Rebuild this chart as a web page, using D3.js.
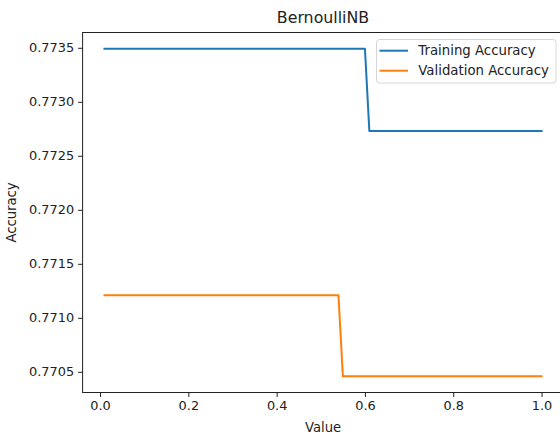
<!DOCTYPE html>
<html>
<head>
<meta charset="utf-8">
<script src="https://cdn.jsdelivr.net/npm/d3@7"></script>
<style>
  html, body { margin: 0; padding: 0; background: #fff; }
  svg { display: block; font-family: "DejaVu Sans", sans-serif; }
</style>
</head>
<body>
<svg id="chart" width="560" height="438"></svg>
<script>
// ---- data ----
const xValues = [0.01, 0.54, 0.55, 0.60, 0.61, 1.00];
const trainingAccuracy = [0.77349, 0.77349, 0.77349, 0.77349, 0.77273, 0.77273];
const validationAccuracy = [0.77121, 0.77121, 0.77046, 0.77046, 0.77046, 0.77046];
const seriesNames = ["Training Accuracy", "Validation Accuracy"];
const xTicks = [0.0, 0.2, 0.4, 0.6, 0.8, 1.0];
const yTicks = [0.7705, 0.7710, 0.7715, 0.7720, 0.7725, 0.7730, 0.7735];
const titleText = "BernoulliNB";
const xLabel = "Value";
const yLabel = "Accuracy";

(function () {
// ---- layout ----
const svg = d3.select("#chart");
const pL = 82.6, pR = 563.4, pT = 32.5, pB = 392.5;
const colors = ["#1f77b4", "#ff7f0e"];
const fs = 12.9;

const xMin = d3.min(xValues), xMax = d3.max(xValues);
const xPad = (xMax - xMin) * 0.05;
const allY = trainingAccuracy.concat(validationAccuracy);
const yMin = d3.min(allY), yMax = d3.max(allY);
const yPad = (yMax - yMin) * 0.05;

const x = d3.scaleLinear().domain([xMin - xPad, xMax + xPad]).range([pL, pR]);
const y = d3.scaleLinear().domain([yMin - yPad, yMax + yPad]).range([pB, pT]);

// axes
const xAxis = d3.axisBottom(x).tickValues(xTicks).tickFormat(d3.format(".1f")).tickSize(4.5).tickPadding(4);
const yAxis = d3.axisLeft(y).tickValues(yTicks).tickFormat(d3.format(".4f")).tickSize(4.5).tickPadding(4);

const gx = svg.append("g").attr("transform", `translate(0,${pB})`).call(xAxis);
const gy = svg.append("g").attr("transform", `translate(${pL},0)`).call(yAxis);
[gx, gy].forEach(g => {
  g.select(".domain").remove();
  g.selectAll(".tick line").attr("stroke", "#222").attr("stroke-width", 1);
  g.selectAll(".tick text").attr("fill", "#222").style("font-size", fs + "px").style("font-family", "DejaVu Sans, sans-serif");
});

// lines
const lineGen = d3.line().x(d => x(d[0])).y(d => y(d[1]));
const series = [trainingAccuracy, validationAccuracy];
series.forEach((vals, i) => {
  svg.append("path")
    .datum(xValues.map((xv, j) => [xv, vals[j]]))
    .attr("d", lineGen)
    .attr("fill", "none")
    .attr("stroke", colors[i])
    .attr("stroke-width", 2)
    .attr("stroke-linejoin", "round")
    .attr("stroke-linecap", "square");
});

// spines
svg.append("rect")
  .attr("x", pL).attr("y", pT)
  .attr("width", pR - pL).attr("height", pB - pT)
  .attr("fill", "none").attr("stroke", "#222").attr("stroke-width", 1);

// title & labels
svg.append("text").attr("x", (pL + pR) / 2).attr("y", 23)
  .attr("text-anchor", "middle").attr("fill", "#222").style("font-size", "15.8px").text(titleText);
svg.append("text").attr("x", (pL + pR) / 2).attr("y", 432)
  .attr("text-anchor", "middle").attr("fill", "#222").style("font-size", "13.2px").text(xLabel);
svg.append("text").attr("transform", `translate(15.5,${(pT + pB) / 2}) rotate(-90)`)
  .attr("text-anchor", "middle").attr("fill", "#222").style("font-size", "13.2px").text(yLabel);

// legend
const lg = svg.append("g");
lg.append("rect").attr("x", 376.5).attr("y", 39.5).attr("width", 179.5).attr("height", 43.5)
  .attr("rx", 3).attr("fill", "#fff").attr("fill-opacity", 0.8)
  .attr("stroke", "#d6d6d6").attr("stroke-width", 1);
seriesNames.forEach((name, i) => {
  const yy = 50.7 + i * 20;
  lg.append("line").attr("x1", 379.5).attr("x2", 408).attr("y1", yy).attr("y2", yy)
    .attr("stroke", colors[i]).attr("stroke-width", 2);
  lg.append("text").attr("x", 418.3).attr("y", yy + 4.7).attr("fill", "#222")
    .style("font-size", "13.3px").text(name);
});
})();
</script>
</body>
</html>
